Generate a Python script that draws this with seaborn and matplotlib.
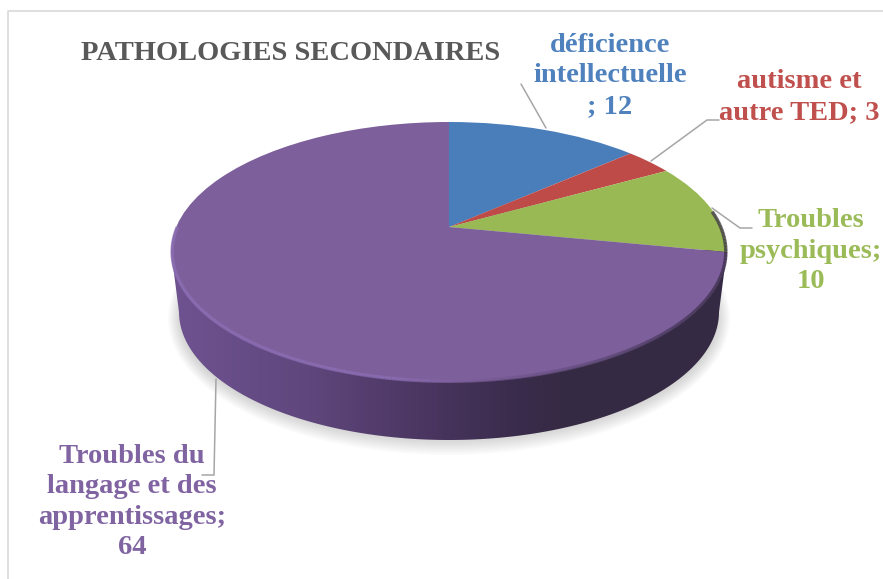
import numpy as np
import matplotlib
matplotlib.use('Agg')
import matplotlib.pyplot as plt
from matplotlib.collections import LineCollection
from matplotlib.colors import LinearSegmentedColormap
from matplotlib.patches import Ellipse, Polygon
from matplotlib.transforms import Transform
import seaborn as sns

title = 'PATHOLOGIES SECONDAIRES'
values = [12, 3, 10, 64]
label_templates = [
    'déficience\nintellectuelle\n; {}',
    'autisme et\nautre TED; {}',
    'Troubles\npsychiques;\n{}',
    'Troubles du\nlangage et des\napprentissages;\n{}',
]
slice_colors = ['#4a7ebb', '#be4b48', '#98b954', '#7d5f9b']
label_colors = ['#4f81bd', '#c0504d', '#9bbb59', '#8064a2']

# where things sit on the page, in pixels
label_pos = [(610, 76), (799, 97), (811, 251), (132, 502)]
leaders = [
    [(521, 84), (546, 128)],
    [(651, 161), (707, 120), (719, 120)],
    [(712, 208), (740, 228), (752, 228)],
    [(216, 379), (214, 475), (202, 475)],
]
CX, CY = 449, 227      # centre of the pie as seen on the page
SCALE_X, SCALE_Y = 272.8, 125.2
TILT = 0.1923          # far side of the disc looks smaller
FONT = 'Liberation Serif'

sns.set_theme(style='white')
plt.rcParams['font.family'] = [FONT, 'DejaVu Serif']


class TiltTransform(Transform):
    # perspective view of the flat unit pie
    input_dims = 2
    output_dims = 2

    def transform_non_affine(self, xy):
        xy = np.asarray(xy, dtype=float)
        w = 1 + TILT * xy[:, 1]
        return np.column_stack([CX + SCALE_X * xy[:, 0] / w, CY - SCALE_Y * xy[:, 1] / w])


tilt = TiltTransform()

fig = plt.figure(figsize=(8.83, 5.79), dpi=100)
ax = fig.add_axes([0, 0, 1, 1])

# soft shadow under the disc
for i in range(12):
    ax.add_patch(Ellipse((449, 318), 2 * (281 - 1.2 * i), 2 * (137 - 1.5 * i),
                         facecolor='#808080', edgecolor='none', alpha=0.03, zorder=1))

# side wall of the disc
side_cmap = LinearSegmentedColormap.from_list('side', [
    (0.0, '#6f5391'), (0.25, '#5f467c'), (0.47, '#49355f'),
    (0.62, '#3a2c4c'), (0.72, '#352a43'), (1.0, '#352a43')])
bottom_t = np.linspace(np.pi, 2 * np.pi, 200)
outline = np.column_stack([449 + 270 * np.cos(bottom_t), 312 - 128 * np.sin(bottom_t)])
outline = np.vstack([[(171, 250)], outline, [(727, 250)]])
side = Polygon(outline, closed=True, facecolor='none', edgecolor='none',
               transform=ax.transData)
ax.add_patch(side)
img = ax.imshow(np.linspace(0, 1, 256).reshape(1, -1), extent=(171, 727, 445, 245),
                cmap=side_cmap, aspect='auto', zorder=2)
img.set_clip_path(side)

# top face, wedge sizes come from the values
wedges, _ = ax.pie(values, colors=sns.color_palette(slice_colors), startangle=90,
                   counterclock=False, wedgeprops={'linewidth': 0})
for w in wedges:
    w.set_transform(tilt + ax.transData)
    w.set_zorder(3)
    w.set_clip_on(False)

# bevel along the front edge of the top face
rim_cmap = LinearSegmentedColormap.from_list('rim', [
    (0.0, '#8e70b8'), (0.4, '#8c6fb5'), (0.52, '#7d5f9c'),
    (0.75, '#5f4a78'), (0.9, '#453657'), (1.0, '#352a43')])
a = np.linspace(np.pi * 1.0, 2.04 * np.pi, 300)
rim = tilt.transform(np.column_stack([np.cos(a), np.sin(a)]) * 0.996)
segs = np.stack([rim[:-1], rim[1:]], axis=1)
rim_lines = LineCollection(segs, cmap=rim_cmap, linewidths=2.5, zorder=4, alpha=0.75)
rim_lines.set_array((rim[:-1, 0] - 171) / 556)
rim_lines.set_clim(0, 1)
ax.add_collection(rim_lines)

for pts in leaders:
    pts = np.array(pts)
    ax.plot(pts[:, 0], pts[:, 1], color='#a6a6a6', lw=1.1, zorder=5, solid_joinstyle='miter')

for tpl, val, pos, col in zip(label_templates, values, label_pos, label_colors):
    ax.text(pos[0], pos[1], tpl.format(val), color=col, fontsize=20.5, fontweight='bold',
            ha='center', va='center', multialignment='center', linespacing=1.29, zorder=6)

ax.text(291, 53, title, color='#595959', fontsize=20.5, fontweight='bold',
        ha='center', va='center', zorder=6)

# chart frame, only top and left are in the picture
ax.plot([8, 8, 883], [579, 11, 11], color='#d9d9d9', lw=1.2, zorder=0)

ax.set_aspect('auto')
ax.set_xlim(0, 883)
ax.set_ylim(579, 0)
ax.axis('off')
fig.savefig('out.png', dpi=100)
